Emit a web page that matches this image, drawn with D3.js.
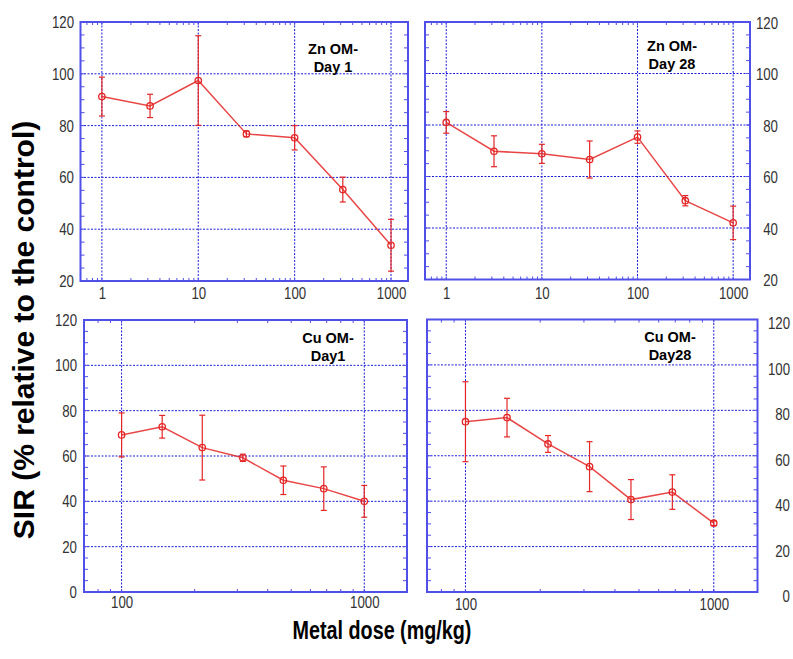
<!DOCTYPE html>
<html>
<head>
<meta charset="utf-8">
<script src="https://cdn.jsdelivr.net/npm/d3@7"></script>
<style>
  body { margin: 0; background: #fff; }
  svg { display: block; }
</style>
</head>
<body>
<svg id="chart" width="793" height="659"></svg>
<script>
// Doses (mg/kg) and SIR responses (% of control), mean and error
const znDoses = [1, 3.16, 10, 31.6, 100, 316, 1000];
const cuDoses = [100, 147, 215, 316, 464, 681, 1000];

const znDay1Mean = [91.2, 87.6, 97.4, 76.8, 75.3, 55.3, 33.8];
const znDay1Err  = [7.5, 4.5, 17.3, 1.1, 4.7, 4.8, 10.0];
const znDay28Mean = [81.0, 69.8, 68.8, 66.6, 75.3, 50.6, 42.0];
const znDay28Err  = [4.2, 6.0, 3.7, 7.2, 2.4, 2.0, 6.5];
const cuDay1Mean = [69.3, 72.9, 63.7, 59.2, 49.3, 45.6, 40.0];
const cuDay1Err  = [9.7, 5.0, 14.3, 1.6, 6.3, 9.6, 7.0];
const cuDay28Mean = [75.0, 76.8, 65.2, 55.2, 40.7, 44.0, 30.3];
const cuDay28Err  = [17.6, 8.5, 3.7, 11.0, 8.8, 7.6, 1.0];

// Tick labels
const znXTicks = [1, 10, 100, 1000];
const cuXTicks = [100, 1000];
const znYTicks = [20, 40, 60, 80, 100, 120];
const cuYTicks = [0, 20, 40, 60, 80, 100, 120];

const panelTitles = [["Zn OM-", "Day 1"], ["Zn OM-", "Day 28"], ["Cu OM-", "Day1"], ["Cu OM-", "Day28"]];

const svg = d3.select("#chart");
const FRAME = "#5050e8";
const GRID = "#1c1cd6";
const RED = "#e42626";
const LABEL_FONT = "Arial, 'Liberation Sans', sans-serif";
const NARROW = 0.78;

const panels = [
  { doses: znDoses, mean: znDay1Mean, err: znDay1Err, xTicks: znXTicks, yTicks: znYTicks,
    xDom: [0.6, 1500], yDom: [20, 120], box: { l: 80.5, r: 408, t: 22, b: 281 },
    side: "left", labelX: 74, labelDy: 0, xLabDy: 12, title: panelTitles[0], tx: 333, ty: 49 },
  { doses: znDoses, mean: znDay28Mean, err: znDay28Err, xTicks: znXTicks, yTicks: znYTicks,
    xDom: [0.6, 1500], yDom: [20, 120], box: { l: 425, r: 750, t: 22, b: 279.5 },
    side: "right", labelX: 778, labelDy: 1, xLabDy: 13, title: panelTitles[1], tx: 672, ty: 46 },
  { doses: cuDoses, mean: cuDay1Mean, err: cuDay1Err, xTicks: cuXTicks, yTicks: cuYTicks,
    xDom: [70, 1500], yDom: [0, 120], box: { l: 84, r: 407, t: 320, b: 592 },
    side: "left", labelX: 77, labelDy: 0, xLabDy: 10, title: panelTitles[2], tx: 328, ty: 338 },
  { doses: cuDoses, mean: cuDay28Mean, err: cuDay28Err, xTicks: cuXTicks, yTicks: cuYTicks,
    xDom: [70, 1500], yDom: [0, 120], box: { l: 427, r: 757.5, t: 319.5, b: 592 },
    side: "right", labelX: 790, labelDy: 4, xLabDy: 12, title: panelTitles[3], tx: 670, ty: 337 }
];

function minorLogTicks(dom) {
  const out = [];
  const lo = Math.floor(Math.log10(dom[0])), hi = Math.ceil(Math.log10(dom[1]));
  for (let e = lo; e <= hi; e++) {
    for (let m = 1; m <= 9; m++) {
      const v = m * Math.pow(10, e);
      if (v > dom[0] * 1.001 && v < dom[1] * 0.999) out.push(v);
    }
  }
  return out;
}

panels.forEach(p => {
  const { l, r, t, b } = p.box;
  const x = d3.scaleLog().domain(p.xDom).range([l, r]);
  const y = d3.scaleLinear().domain(p.yDom).range([b, t]);
  const g = svg.append("g");

  // Dotted grid at the decades and every 20 units
  g.append("g").selectAll("line").data(p.xTicks).join("line")
    .attr("x1", d => x(d)).attr("x2", d => x(d)).attr("y1", t).attr("y2", b)
    .attr("stroke", GRID).attr("stroke-width", 1).attr("stroke-dasharray", "2,1.5");
  g.append("g").selectAll("line").data(p.yTicks.filter(v => v > p.yDom[0] && v < p.yDom[1])).join("line")
    .attr("x1", l).attr("x2", r).attr("y1", d => y(d)).attr("y2", d => y(d))
    .attr("stroke", GRID).attr("stroke-width", 1).attr("stroke-dasharray", "2,1.5");

  // Series: error bars, connecting line, open circle markers
  const pts = p.doses.map((d, i) => ({ x: d, m: p.mean[i], e: p.err[i] }));
  const s = g.append("g");
  const eb = s.selectAll("g.eb").data(pts).join("g").attr("class", "eb");
  eb.append("line").attr("x1", d => x(d.x)).attr("x2", d => x(d.x))
    .attr("y1", d => y(d.m + d.e)).attr("y2", d => y(d.m - d.e))
    .attr("stroke", RED).attr("stroke-width", 1.2);
  eb.append("line").attr("x1", d => x(d.x) - 3).attr("x2", d => x(d.x) + 3)
    .attr("y1", d => y(d.m + d.e)).attr("y2", d => y(d.m + d.e))
    .attr("stroke", RED).attr("stroke-width", 1.2);
  eb.append("line").attr("x1", d => x(d.x) - 3).attr("x2", d => x(d.x) + 3)
    .attr("y1", d => y(d.m - d.e)).attr("y2", d => y(d.m - d.e))
    .attr("stroke", RED).attr("stroke-width", 1.2);
  s.append("path").datum(pts)
    .attr("d", d3.line().x(d => x(d.x)).y(d => y(d.m)))
    .attr("fill", "none").attr("stroke", RED).attr("stroke-width", 1.5).attr("stroke-opacity", 0.85);
  s.selectAll("circle").data(pts).join("circle")
    .attr("cx", d => x(d.x)).attr("cy", d => y(d.m)).attr("r", 3.2)
    .attr("fill", "none").attr("stroke", RED).attr("stroke-width", 1.3);

  // Frame
  g.append("rect").attr("x", l).attr("y", t).attr("width", r - l).attr("height", b - t)
    .attr("fill", "none").attr("stroke", FRAME).attr("stroke-width", 2);

  // Inward minor ticks on all four edges
  const xm = minorLogTicks(p.xDom);
  const ym = d3.range(p.yDom[0] + 5, p.yDom[1], 5);
  const tk = g.append("g").attr("stroke", FRAME).attr("stroke-width", 1);
  xm.forEach(v => {
    tk.append("line").attr("x1", x(v)).attr("x2", x(v)).attr("y1", b).attr("y2", b - 3);
    tk.append("line").attr("x1", x(v)).attr("x2", x(v)).attr("y1", t).attr("y2", t + 3);
  });
  ym.forEach(v => {
    tk.append("line").attr("x1", l).attr("x2", l + 4).attr("y1", y(v)).attr("y2", y(v));
    tk.append("line").attr("x1", r).attr("x2", r - 4).attr("y1", y(v)).attr("y2", y(v));
  });

  // Tick labels through d3 axes (lines hidden, text narrowed)
  const xAxis = g.append("g").attr("transform", `translate(0,${b})`)
    .call(d3.axisBottom(x).tickValues(p.xTicks).tickFormat(d3.format("d")).tickSize(0).tickPadding(p.xLabDy - 6));
  const yAxisFn = p.side === "left" ? d3.axisLeft(y) : d3.axisRight(y);
  const yAxis = g.append("g").attr("transform", `translate(${p.labelX},0)`)
    .call(yAxisFn.tickValues(p.yTicks).tickFormat(d3.format("d")).tickSize(0).tickPadding(0));
  [xAxis, yAxis].forEach(a => {
    a.select(".domain").remove();
    a.selectAll("text").attr("font-family", LABEL_FONT).attr("font-size", 17).attr("fill", "#333");
  });
  xAxis.selectAll("text").attr("transform", `scale(${NARROW},1)`);
  yAxis.selectAll("text").attr("x", 0).attr("text-anchor", "end")
    .attr("transform", `translate(0,${p.labelDy}) scale(${NARROW},1)`);

  // Panel caption
  const cap = g.append("text").attr("font-family", LABEL_FONT).attr("font-weight", "bold")
    .attr("font-size", 14.5).attr("text-anchor", "middle").attr("fill", "#000");
  cap.append("tspan").attr("x", p.tx).attr("y", p.ty).attr("dy", "0.35em").text(p.title[0]);
  cap.append("tspan").attr("x", p.tx).attr("y", p.ty + 18).attr("dy", "0.35em").text(p.title[1]);
});

// Shared axis titles
svg.append("text").attr("transform", "translate(23,330) rotate(-90)")
  .attr("text-anchor", "middle").attr("dy", "0.35em")
  .attr("font-family", LABEL_FONT).attr("font-weight", "bold").attr("font-size", 30)
  .text("SIR (% relative to the control)");
svg.append("text").attr("transform", "translate(382,630) scale(0.76,1)")
  .attr("text-anchor", "middle").attr("dy", "0.35em")
  .attr("font-family", LABEL_FONT).attr("font-weight", "bold").attr("font-size", 26)
  .text("Metal dose (mg/kg)");
</script>
</body>
</html>
